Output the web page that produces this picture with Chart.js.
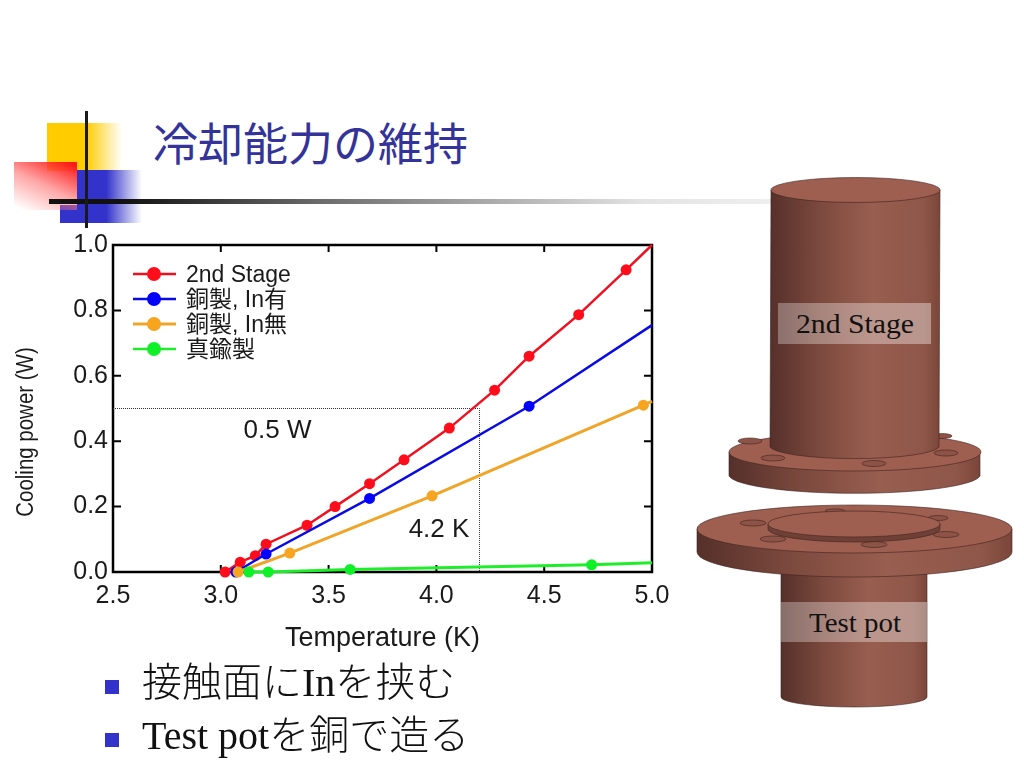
<!DOCTYPE html>
<html lang="ja">
<head>
<meta charset="utf-8">
<title>冷却能力の維持</title>
<script src="https://cdn.jsdelivr.net/npm/chart.js@4"></script>
<style>
  html, body { margin: 0; padding: 0; background: #fff; }
  #slide { position: relative; width: 1024px; height: 768px; overflow: hidden; }
  #slide > * { position: absolute; }
  #yellow { left: 47px; top: 123px; width: 75px; height: 48px; background: linear-gradient(90deg, #ffcc00 52%, rgba(255,204,0,0) 100%); }
  #blue { left: 77px; top: 170px; width: 65px; height: 53px; background: linear-gradient(90deg, #3333cc 45%, rgba(51,51,204,0) 100%); }
  #blue2 { left: 60px; top: 205px; width: 30px; height: 18px; background: #3333cc; }
  #red { left: 14px; top: 162px; width: 63px; height: 48px; background: linear-gradient(205deg, #ff1a1a 5%, rgba(255,120,120,.65) 50%, rgba(255,255,255,0) 95%); }
  #vline { left: 85px; top: 111px; width: 3px; height: 117px; background: #1a1a1a; }
  #hline { left: 49px; top: 199px; width: 915px; height: 5px; background: linear-gradient(90deg, #111 0, #111 8%, rgba(60,60,60,.75) 30%, rgba(200,200,200,.5) 65%, rgba(255,255,255,0) 100%); }
  #title { left: 153px; top: 110px; font: 45px/64px "Noto Sans CJK JP"; color: #333399; white-space: nowrap; }
  #chart { left: 0; top: 225px; }
  .bullet { left: 105px; width: 14px; height: 14px; background: #3333cc; }
  .item { left: 142px; font: 40px/50px "Liberation Serif", "Noto Sans CJK JP"; font-weight: 300; color: #111; white-space: nowrap; }
  #parts { left: 690px; top: 170px; }
</style>
</head>
<body>
<div id="slide">
  <div id="yellow"></div>
  <div id="blue"></div>
  <div id="blue2"></div>
  <div id="red"></div>
  <div id="hline"></div>
  <div id="vline"></div>
  <div id="title">冷却能力の維持</div>

  <canvas id="chart" width="680" height="435"></canvas>

  <div class="bullet" style="top:680px"></div>
  <div class="item" style="top:658px">接触面にInを挟む</div>
  <div class="bullet" style="top:733px"></div>
  <div class="item" style="top:711px">Test potを銅で造る</div>

  <!-- copper parts, not part of the chart -->
  <svg id="parts" width="334" height="550" viewBox="690 170 334 550">
    <defs>
      <linearGradient id="copper" x1="0" x2="1" y1="0" y2="0">
        <stop offset="0" stop-color="#55302a"/>
        <stop offset="0.3" stop-color="#7d4a3e"/>
        <stop offset="0.6" stop-color="#985e50"/>
        <stop offset="0.9" stop-color="#8f5749"/>
        <stop offset="1" stop-color="#7a4639"/>
      </linearGradient>
      <linearGradient id="band" x1="0" x2="1" y1="0" y2="0">
        <stop offset="0" stop-color="#fff" stop-opacity=".3"/>
        <stop offset="1" stop-color="#fff" stop-opacity=".38"/>
      </linearGradient>
    </defs>
    <g stroke="#3f2420" stroke-width="0.6">
      <!-- upper flange -->
      <path d="M729 452 V476 A126 19 0 0 0 980 476 V452 Z" fill="url(#copper)"/>
      <ellipse cx="855" cy="452" rx="126" ry="19" fill="#9e5e50"/>
      <g fill="#8c5346">
        <ellipse cx="750" cy="441" rx="12" ry="3"/>
        <ellipse cx="773" cy="458" rx="12" ry="3"/>
        <ellipse cx="874" cy="463.500" rx="12" ry="3"/>
        <ellipse cx="946" cy="453" rx="12" ry="3"/>
        <ellipse cx="942" cy="436" rx="10" ry="2.500"/>
      </g>
      <!-- upper cylinder -->
      <path d="M771 190 L770 447 A85 13 0 0 0 939 447 L940 190 Z" fill="url(#copper)"/>
      <ellipse cx="855.500" cy="190" rx="84.500" ry="12.500" fill="#9e5e50"/>
      <!-- test pot -->
      <path d="M781 560 V697 A73 10 0 0 0 927 697 V560 Z" fill="url(#copper)"/>
      <!-- lower flange -->
      <path d="M697 529 V552 A157.500 25 0 0 0 1012 552 V529 Z" fill="url(#copper)"/>
      <ellipse cx="854.500" cy="529" rx="157.500" ry="24" fill="#9e5e50"/>
      <g fill="#8c5346">
        <ellipse cx="753" cy="523" rx="13" ry="3"/>
        <ellipse cx="773" cy="539" rx="13" ry="3"/>
        <ellipse cx="874" cy="544.500" rx="13" ry="3"/>
        <ellipse cx="946" cy="534.500" rx="13" ry="3"/>
        <ellipse cx="938" cy="518" rx="10" ry="2.500"/>
        <ellipse cx="835" cy="511" rx="10" ry="2"/>
      </g>
      <!-- raised disc -->
      <path d="M768 524 V529 A86 13 0 0 0 940 529 V524 Z" fill="#6f4036"/>
      <ellipse cx="854" cy="524" rx="86" ry="13" fill="#9e5e50"/>
    </g>
    <rect x="778" y="303" width="153" height="41" fill="url(#band)"/>
    <rect x="781" y="602" width="146" height="40" fill="url(#band)"/>
    <g font-family="Liberation Serif" font-size="27" fill="#111" text-anchor="middle">
      <text x="855" y="333" textLength="118" lengthAdjust="spacingAndGlyphs">2nd Stage</text>
      <text x="855" y="632" textLength="92" lengthAdjust="spacingAndGlyphs">Test pot</text>
    </g>
  </svg>
</div>

<script>
// Values
const seriesNames = ['2nd Stage', '銅製, In有', '銅製, In無', '真鍮製'];
const seriesColors = ['#f01020', '#0a0ae6', '#f0a528', '#1eee2a'];
const markerColors = ['#ff0d1a', '#0000ff', '#f7a51e', '#10f028'];

const stageT = [3.02, 3.09, 3.16, 3.21, 3.40, 3.53, 3.69, 3.85, 4.06, 4.27, 4.43, 4.66, 4.88, 5.00];
const stageW = [0.00, 0.03, 0.05, 0.085, 0.143, 0.20, 0.27, 0.343, 0.44, 0.556, 0.66, 0.787, 0.924, 1.00];

const copperInT = [3.07, 3.21, 3.69, 4.43, 5.00];
const copperInW = [0.00, 0.055, 0.225, 0.507, 0.755];

const copperNoInT = [3.08, 3.32, 3.98, 4.96, 5.00];
const copperNoInW = [0.00, 0.058, 0.233, 0.51, 0.522];

const brassT = [3.13, 3.22, 3.60, 4.72, 5.00];
const brassW = [0.00, 0.00, 0.008, 0.022, 0.028];

const guideT = [2.5, 4.2, 4.2];
const guideW = [0.5, 0.5, 0.0];

const xTicks = { min: 2.5, max: 5.0, step: 0.5 };
const yTicks = { min: 0.0, max: 1.0, step: 0.2 };

const sansFont = '"Liberation Sans", "Noto Sans CJK JP"';

function toPoints(xs, ys) {
  return xs.map((x, i) => ({ x: x, y: ys[i] }));
}

function makeSeries(i, xs, ys, width) {
  return {
    label: seriesNames[i],
    data: toPoints(xs, ys),
    borderColor: seriesColors[i],
    backgroundColor: markerColors[i],
    borderWidth: width,
    // the last point on the right edge is only where the line is cut off
    pointRadius: ctx => (ctx.parsed.x >= xTicks.max ? 0 : 5.5),
    pointBorderWidth: 0,
    tension: 0,
    clip: false,
    order: 4 - i
  };
}

// frame, inward ticks, legend, notes and the y title
const slideParts = {
  id: 'slideParts',
  beforeDatasetsDraw(chart) {
    const { ctx, chartArea: a, scales: { x, y } } = chart;
    ctx.save();
    ctx.strokeStyle = '#000';
    ctx.lineWidth = 2.5;
    ctx.strokeRect(a.left, a.top, a.right - a.left, a.bottom - a.top);
    ctx.lineWidth = 2;
    ctx.beginPath();
    x.ticks.slice(1, -1).forEach(t => {
      const px = x.getPixelForValue(t.value);
      ctx.moveTo(px, a.bottom); ctx.lineTo(px, a.bottom - 7);
      ctx.moveTo(px, a.top); ctx.lineTo(px, a.top + 7);
    });
    y.ticks.slice(1, -1).forEach(t => {
      const py = y.getPixelForValue(t.value);
      ctx.moveTo(a.left, py); ctx.lineTo(a.left + 8, py);
      ctx.moveTo(a.right, py); ctx.lineTo(a.right - 8, py);
    });
    ctx.stroke();
    ctx.restore();
  },
  afterDatasetsDraw(chart) {
    const { ctx, scales: { x, y } } = chart;
    ctx.save();
    ctx.textBaseline = 'middle';
    ctx.fillStyle = '#1a1a1a';
    ctx.font = '26px ' + sansFont;
    ctx.textAlign = 'center';
    ctx.fillText('0.5 W', x.getPixelForValue(3.263), y.getPixelForValue(0.433));
    ctx.fillText('4.2 K', x.getPixelForValue(4.012), y.getPixelForValue(0.13));

    ctx.save();
    ctx.translate(27, 207);
    ctx.rotate(-Math.PI / 2);
    ctx.scale(0.89, 1);
    ctx.font = '23px ' + sansFont;
    ctx.fillText('Cooling power (W)', 0, 0);
    ctx.restore();

    ctx.textAlign = 'left';
    ctx.font = '23px ' + sansFont;
    seriesNames.forEach((name, i) => {
      const rowY = 49 + i * 25;
      ctx.strokeStyle = seriesColors[i];
      ctx.lineWidth = i === 2 ? 3 : 2.5;
      ctx.beginPath();
      ctx.moveTo(133, rowY);
      ctx.lineTo(176, rowY);
      ctx.stroke();
      ctx.fillStyle = markerColors[i];
      ctx.beginPath();
      ctx.arc(154, rowY, 7, 0, Math.PI * 2);
      ctx.fill();
      ctx.fillStyle = '#1a1a1a';
      ctx.fillText(name, 186, rowY + 1.5);
    });
    ctx.restore();
  }
};

new Chart(document.getElementById('chart'), {
  type: 'line',
  data: {
    datasets: [
      makeSeries(0, stageT, stageW, 2.5),
      makeSeries(1, copperInT, copperInW, 2.5),
      makeSeries(2, copperNoInT, copperNoInW, 3),
      makeSeries(3, brassT, brassW, 3),
      {
        label: 'guide',
        data: toPoints(guideT, guideW),
        borderColor: '#333',
        borderWidth: 1,
        borderDash: [1, 1],
        pointRadius: 0,
        tension: 0,
        order: 5
      }
    ]
  },
  options: {
    responsive: false,
    animation: false,
    layout: { padding: { top: 14, right: 28, left: 0, bottom: 0 } },
    plugins: { legend: { display: false }, tooltip: { enabled: false } },
    scales: {
      x: {
        type: 'linear',
        min: xTicks.min,
        max: xTicks.max,
        afterFit: s => { s.height = 88; },
        grid: { display: false, tickLength: 0 },
        border: { display: false },
        ticks: {
          stepSize: xTicks.step,
          padding: 9,
          maxRotation: 0,
          color: '#1a1a1a',
          font: { family: sansFont, size: 25 },
          callback: v => v.toFixed(1)
        },
        title: {
          display: true,
          text: 'Temperature (K)',
          color: '#1a1a1a',
          font: { family: sansFont, size: 27 },
          padding: { top: 0, bottom: 5 }
        }
      },
      y: {
        type: 'linear',
        min: yTicks.min,
        max: yTicks.max,
        afterFit: s => { s.width = 113; },
        grid: { display: false, tickLength: 0 },
        border: { display: false },
        ticks: {
          stepSize: yTicks.step,
          padding: 5,
          color: '#1a1a1a',
          font: { family: sansFont, size: 25 },
          callback: v => v.toFixed(1)
        }
      }
    }
  },
  plugins: [slideParts]
});
</script>
</body>
</html>
